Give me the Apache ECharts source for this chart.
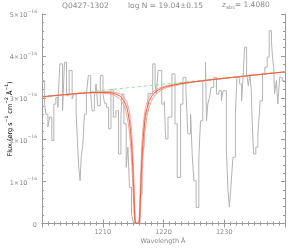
<!DOCTYPE html>
<html><head><meta charset="utf-8">
<script src="https://cdn.jsdelivr.net/npm/echarts@6/dist/echarts.min.js"></script>
<style>html,body{margin:0;padding:0;background:#fff}#c{width:299px;height:250px}</style>
</head><body><div id="c"></div>
<script>
// Observed spectrum (flux in units of 1e-16 erg/s/cm^2/A), step bins starting at wavelength
const wavelength = [1200.05,1200.43,1200.64,1200.97,1201.25,1201.62,1201.95,1202.28,1202.61,1202.93,1203.38,1203.70,1204.03,1204.47,1204.96,1205.23,1205.62,1205.83,1206.05,1206.27,1206.49,1206.70,1206.98,1207.31,1207.63,1208.01,1208.24,1208.62,1208.90,1209.16,1209.60,1210.04,1210.30,1210.63,1210.96,1211.35,1211.73,1212.17,1212.60,1212.99,1213.15,1213.48,1213.86,1214.14,1214.40,1214.73,1215.05,1216.15,1216.48,1216.81,1217.13,1217.46,1218.23,1218.61,1218.82,1219.10,1219.71,1220.13,1220.36,1220.74,1221.39,1221.89,1222.26,1222.82,1223.20,1223.69,1224.01,1224.46,1224.72,1225.00,1225.37,1225.82,1226.09,1226.47,1226.91,1227.08,1227.29,1227.57,1227.83,1228.27,1228.72,1229.14,1229.53,1229.80,1230.35,1230.62,1230.84,1231.11,1231.43,1231.83,1232.09,1232.53,1232.86,1233.07,1233.35,1233.68,1233.96,1234.22,1234.45,1234.61,1234.83,1235.20,1235.53,1235.69,1235.92,1236.30,1236.68,1237.07,1237.40,1237.77,1237.94,1238.15,1238.27,1238.59,1238.81,1239.13,1239.53,1239.90];
const flux = [3.41,2.85,2.61,2.30,2.54,1.98,2.85,3.01,2.77,3.81,2.69,3.85,3.05,3.65,2.97,3.09,2.61,1.98,1.34,1.02,1.66,1.82,2.61,3.09,3.53,3.09,2.69,3.01,3.33,2.81,3.53,3.09,2.87,2.77,2.26,3.20,2.54,2.69,1.66,2.54,3.09,2.38,1.34,1.82,0.86,0.22,0.02,0.70,1.82,2.45,2.69,3.10,3.81,3.33,3.09,3.65,2.85,2.91,2.02,2.54,3.57,2.38,1.10,2.85,3.49,3.17,2.14,2.61,1.66,1.02,0.38,1.58,2.45,3.41,3.85,2.45,2.85,3.01,3.25,3.49,3.09,3.17,2.93,3.17,1.74,0.78,0.39,0.90,1.58,2.61,3.49,3.33,2.93,3.41,4.21,3.57,3.29,3.57,3.17,2.38,1.66,1.82,2.14,2.45,2.93,3.57,3.73,3.97,4.60,4.36,3.97,3.73,3.09,3.41,2.85,3.49,3.41,3.41];

// Fitted Voigt model: best fit and +/- error curves
const modelWave = [1200.05,1203.67,1206.67,1208.67,1210.67,1211.67,1212.67,1213.17,1213.67,1213.92,1214.17,1214.42,1214.67,1214.82,1214.97,1215.07,1215.17,1215.27,1215.37,1215.47,1215.67,1215.87,1215.97,1216.07,1216.17,1216.27,1216.37,1216.52,1216.67,1216.92,1217.17,1217.42,1217.67,1218.17,1218.67,1219.67,1220.67,1222.67,1224.67,1227.67,1231.67,1235.67,1239.90];
const modelBest = [3.024,3.074,3.110,3.128,3.128,3.110,3.054,2.992,2.876,2.778,2.632,2.405,2.036,1.702,1.253,0.889,0.503,0.176,0.018,0.000,0.000,0.000,0.018,0.176,0.505,0.894,1.261,1.715,2.054,2.433,2.668,2.822,2.928,3.061,3.139,3.225,3.273,3.333,3.375,3.428,3.492,3.554,3.617];
const modelLow = [3.026,3.077,3.115,3.137,3.145,3.136,3.101,3.058,2.975,2.903,2.796,2.624,2.332,2.055,1.654,1.297,0.866,0.411,0.082,0.001,0.000,0.001,0.083,0.413,0.870,1.304,1.665,2.071,2.353,2.654,2.835,2.950,3.030,3.128,3.187,3.253,3.291,3.342,3.381,3.431,3.493,3.555,3.618];
const modelHigh = [3.022,3.070,3.103,3.116,3.104,3.073,2.990,2.901,2.740,2.608,2.416,2.126,1.678,1.303,0.845,0.520,0.232,0.053,0.002,0.000,0.000,0.000,0.002,0.053,0.233,0.523,0.851,1.313,1.693,2.150,2.449,2.650,2.790,2.968,3.072,3.187,3.248,3.320,3.368,3.423,3.489,3.552,3.616];

// Continuum
const contWave = [1200.05, 1239.90];
const contFlux = [3.03, 3.62];

const xTickValues = [1210, 1220, 1230];
const yTickValues = [0, 1, 2, 3, 4, 5];

const zip = (a, b) => a.map((v, i) => [v, b[i]]);
const spec = zip(wavelength, flux);
spec.push([1239.90, flux[flux.length - 1]]);

const AX = '#9a9a9a', TXT = '#8a8a8a', FONT = 'DejaVu Sans';
const chart = echarts.init(document.getElementById('c'), null, {renderer: 'canvas'});

function xAxisCfg(pos, show) {
  return {
    type: 'value', position: pos, min: 1200, max: 1240, interval: 10,
    axisLine: {show: true, lineStyle: {color: AX, width: 1}},
    axisTick: {show: true, inside: true, length: 4, lineStyle: {color: AX}},
    minorTick: {show: true, splitNumber: 10, length: 2, lineStyle: {color: AX}},
    splitLine: {show: false},
    axisLabel: {show: show, color: TXT, fontSize: 6.5, fontFamily: FONT, margin: 5,
      formatter: v => xTickValues.includes(v) ? String(v) : ''},
  };
}
function yAxisCfg(pos, show) {
  return {
    type: 'value', position: pos, min: 0, max: 5, interval: 1,
    axisLine: {show: true, lineStyle: {color: AX, width: 1}},
    axisTick: {show: true, inside: true, length: 4, lineStyle: {color: AX}},
    minorTick: {show: true, splitNumber: 5, length: 2, lineStyle: {color: AX}},
    splitLine: {show: false},
    axisLabel: {show: show, color: TXT, fontFamily: FONT, margin: 5,
      formatter: v => yTickValues.includes(v) ? (v === 0 ? '{m|0}' : '{m|' + v + '×10}{s|−16}') : '',
      rich: {
        m: {fontSize: 6.5, color: TXT, fontFamily: FONT, lineHeight: 10, verticalAlign: 'bottom'},
        s: {fontSize: 4.5, color: TXT, fontFamily: FONT, lineHeight: 10, verticalAlign: 'top'}
      }},
  };
}

const supRich = {
  n: {fontSize: 6.5, color: TXT, fontFamily: FONT, lineHeight: 10, verticalAlign: 'bottom'},
  s: {fontSize: 4.5, color: TXT, fontFamily: FONT, lineHeight: 10, verticalAlign: 'top'},
  b: {fontSize: 4.5, color: TXT, fontFamily: FONT, lineHeight: 10, verticalAlign: 'bottom'}
};

chart.setOption({
  animation: false,
  backgroundColor: '#fff',
  grid: {left: 42, top: 14, width: 243, height: 209.5, containLabel: false},
  xAxis: [xAxisCfg('bottom', true), xAxisCfg('top', false)],
  yAxis: [yAxisCfg('left', true), yAxisCfg('right', false)],
  graphic: [
    {type: 'text', left: 62, top: 2, style: {text: 'Q0427-1302', fill: TXT, fontSize: 7.5, fontFamily: FONT}},
    {type: 'text', left: 128, top: 2, style: {text: 'log N = 19.04±0.15', fill: TXT, fontSize: 7.5, fontFamily: FONT}},
    {type: 'text', left: 222, top: 1, style: {text: '{n|z}{b|abs}{n|= 1.4080}', rich: {
      n: {fontSize: 7.5, fill: TXT, color: TXT, fontFamily: FONT, lineHeight: 11, verticalAlign: 'middle'},
      b: {fontSize: 5, fill: TXT, color: TXT, fontFamily: FONT, lineHeight: 11, verticalAlign: 'bottom'}}}},
    {type: 'text', x: 163, y: 241, style: {text: 'Wavelength Å', fill: TXT, fontSize: 6.5, fontFamily: FONT, align: 'center', verticalAlign: 'middle'}},
    {type: 'text', x: 9, y: 119, rotation: Math.PI / 2, style: {
      text: '{n|Flux (erg s}{s|−1}{n| cm}{s|−2}{n| Å}{s|−1}{n|)}', rich: supRich, align: 'center', verticalAlign: 'middle'}}
  ],
  series: [
    {type: 'line', name: 'spectrum', data: spec, step: 'end', symbol: 'none',
      lineStyle: {color: '#b3b3b3', width: 1}, z: 2},
    {type: 'line', name: 'continuum', data: zip(contWave, contFlux), symbol: 'none',
      lineStyle: {color: '#8fe88f', width: 1, type: [3, 3]}, z: 3},
    {type: 'line', name: 'low', data: zip(modelWave, modelLow), symbol: 'none', smooth: 0.3,
      lineStyle: {color: '#f7a396', width: 1}, z: 4},
    {type: 'line', name: 'high', data: zip(modelWave, modelHigh), symbol: 'none', smooth: 0.3,
      lineStyle: {color: '#f7a396', width: 1}, z: 4},
    {type: 'line', name: 'best', data: zip(modelWave, modelBest), symbol: 'none', smooth: 0.3,
      lineStyle: {color: '#ee5a3c', width: 1}, z: 5}
  ]
});
</script></body></html>
